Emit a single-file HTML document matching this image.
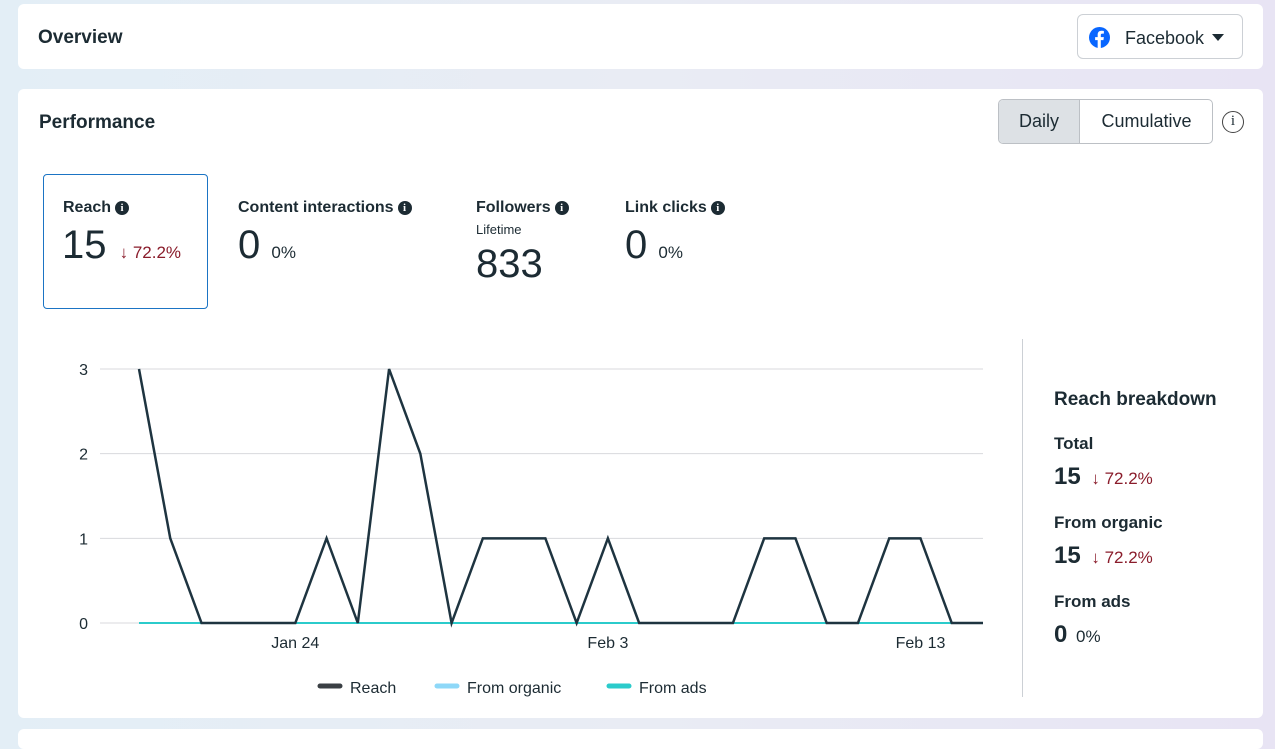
<!DOCTYPE html>
<html><head><meta charset="utf-8"><style>
*{box-sizing:border-box;margin:0;padding:0}
body{width:1275px;height:733px;overflow:hidden;background:linear-gradient(90deg,#e3eef6 0%,#e9ecf4 50%,#e8e4f4 100%);font-family:"Liberation Sans",sans-serif;color:#1c2b33;position:relative}
.card{position:absolute;background:#fff;border-radius:6px}
.abs{position:absolute}
.t{font-weight:bold;font-size:19px}
.lbl{font-weight:bold;font-size:16px;white-space:nowrap}
.info{display:inline-block;width:14px;height:14px;border-radius:50%;background:#1c2b33;color:#fff;font-size:11px;text-align:center;line-height:14px;font-family:"Liberation Serif",serif;font-weight:bold;vertical-align:1px;margin-left:4px}
.big{font-size:40px;white-space:nowrap}
.pct{font-size:16px;color:#1c2b33}
.down{color:#8a1c2b}
</style></head><body>
<div class="card" style="left:18px;top:4px;width:1245px;height:65px">
  <div class="abs t" style="left:20px;top:23px">Overview</div>
  <div class="abs" style="left:1059px;top:10px;width:166px;height:45px;border:1px solid #ccd0d5;border-radius:6px">
    <svg class="abs" style="left:11px;top:12px" width="21" height="21" viewBox="0 0 24 24"><circle cx="12" cy="12" r="12" fill="#0866ff"/><path d="M13.5 24V15h3l.5-3.5h-3.5V9.3c0-1 .3-1.7 1.8-1.7H17V4.5c-.4 0-1.5-.2-2.8-.2-2.7 0-4.3 1.6-4.3 4.6v2.6H7V15h2.9v9z" fill="#fff"/></svg>
    <div class="abs" style="left:47px;top:13px;font-size:18px">Facebook</div>
    <div class="abs" style="left:134px;top:19px;width:0;height:0;border-left:6px solid transparent;border-right:6px solid transparent;border-top:7px solid #1c2b33"></div>
  </div>
</div>
<div class="card" style="left:18px;top:89px;width:1245px;height:629px">
  <div class="abs t" style="left:21px;top:23px">Performance</div>
  <div class="abs" style="left:980px;top:10px;width:215px;height:45px;border:1px solid #bcc0c5;border-radius:5px;overflow:hidden;font-size:18px">
    <div class="abs" style="left:0;top:0;width:81px;height:43px;background:#dde1e5;border-right:1px solid #bcc0c5;text-align:center;line-height:43px">Daily</div>
    <div class="abs" style="left:81px;top:0;width:133px;height:43px;text-align:center;line-height:43px">Cumulative</div>
  </div>
  <div class="abs" style="left:1204px;top:22px;width:22px;height:22px;border:1.5px solid #444;border-radius:50%;text-align:center;font-size:15px;line-height:19px;font-family:'Liberation Serif',serif">i</div>

  <div class="abs" style="left:25px;top:85px;width:165px;height:135px;border:1.5px solid #1b74c4;border-radius:4px"></div>
  <div class="abs lbl" style="left:45px;top:110px">Reach<span class="info">i</span></div>
  <div class="abs big" style="left:44px;top:134px">15 <span class="pct down" style="font-size:17px;margin-left:2px">↓ 72.2%</span></div>
  <div class="abs lbl" style="left:220px;top:110px">Content interactions<span class="info">i</span></div>
  <div class="abs big" style="left:220px;top:134px">0 <span class="pct" style="font-size:17px">0%</span></div>
  <div class="abs lbl" style="left:458px;top:110px">Followers<span class="info">i</span></div>
  <div class="abs" style="left:458px;top:133px;font-size:13px">Lifetime</div>
  <div class="abs big" style="left:458px;top:153px">833</div>
  <div class="abs lbl" style="left:607px;top:110px">Link clicks<span class="info">i</span></div>
  <div class="abs big" style="left:607px;top:134px">0 <span class="pct" style="font-size:17px">0%</span></div>

  <div class="abs" style="left:1004px;top:250px;width:1px;height:358px;background:#ccd0d5"></div>
  <div class="abs" style="left:1036px;top:300px">
    <div style="font-weight:bold;font-size:19px">Reach breakdown</div>
    <div style="font-weight:bold;font-size:17px;margin-top:23px">Total</div>
    <div style="font-weight:bold;font-size:24px;margin-top:9px">15 <span class="down" style="font-weight:normal;font-size:17px;margin-left:4px">↓ 72.2%</span></div>
    <div style="font-weight:bold;font-size:17px;margin-top:22px">From organic</div>
    <div style="font-weight:bold;font-size:24px;margin-top:9px">15 <span class="down" style="font-weight:normal;font-size:17px;margin-left:4px">↓ 72.2%</span></div>
    <div style="font-weight:bold;font-size:17px;margin-top:22px">From ads</div>
    <div style="font-weight:bold;font-size:24px;margin-top:9px">0 <span style="font-weight:normal;font-size:17px;margin-left:2px">0%</span></div>
  </div>
</div>
<div class="card" style="left:18px;top:729px;width:1245px;height:20px"></div>

<svg class="abs" id="chart" style="left:0;top:0" width="1275" height="733"></svg>
<script>
const dates=["Jan 19","Jan 20","Jan 21","Jan 22","Jan 23","Jan 24","Jan 25","Jan 26","Jan 27","Jan 28","Jan 29","Jan 30","Jan 31","Feb 1","Feb 2","Feb 3","Feb 4","Feb 5","Feb 6","Feb 7","Feb 8","Feb 9","Feb 10","Feb 11","Feb 12","Feb 13","Feb 14","Feb 15"];
const reach=[3,1,0,0,0,0,1,0,3,2,0,1,1,1,0,1,0,0,0,0,1,1,0,0,1,1,0,0];
const fromAds=[0,0,0,0,0,0,0,0,0,0,0,0,0,0,0,0,0,0,0,0,0,0,0,0,0,0,0,0];
const yTicks=[0,1,2,3];
const xTickLabels=["Jan 24","Feb 3","Feb 13"];
const svg=document.getElementById('chart');const NS="http://www.w3.org/2000/svg";
const x0=139,x1=983,yb=623,yt=369;
const X=i=>x0+(x1-x0)*i/(dates.length-1);
const Y=v=>yb-(yb-yt)*v/3;
function mk(t,a){const e=document.createElementNS(NS,t);for(const k in a)e.setAttribute(k,a[k]);svg.appendChild(e);return e;}
yTicks.forEach(v=>{
  const l=mk('line',{x1:100,x2:983,y1:Y(v),y2:Y(v),stroke:'#d8dadd','stroke-width':1});
  
  
  const t=mk('text',{x:88,y:Y(v)+6,'text-anchor':'end','font-size':16,fill:'#1c2b33','font-family':'Liberation Sans'});
  t.textContent=v;
  
  
});
xTickLabels.forEach(s=>{
  const i=dates.indexOf(s);
  const t=mk('text',{x:X(i),y:648,'text-anchor':'middle','font-size':16,fill:'#1c2b33','font-family':'Liberation Sans'});
  t.textContent=s;
  
  
});
const a=mk('polyline',{points:fromAds.map((v,i)=>X(i)+','+Y(v)).join(' '),fill:'none',stroke:'#2bcbcb','stroke-width':2});


const r=mk('polyline',{points:reach.map((v,i)=>X(i)+','+Y(v)).join(' '),fill:'none',stroke:'#1e3440','stroke-width':2.5,'stroke-linejoin':'miter'});


[["Reach","#3a3f44",320],["From organic","#8ed8f8",437],["From ads","#2bcbcb",609]].forEach(([n,c,x])=>{
  const l=mk('line',{x1:x,x2:x+20,y1:686,y2:686,stroke:c,'stroke-width':5,'stroke-linecap':'round'});
  
  
  const t=mk('text',{x:x+30,y:693,'font-size':16,fill:'#1c2b33','font-family':'Liberation Sans'});
  t.textContent=n;
  
  
});
</script>
</body></html>
